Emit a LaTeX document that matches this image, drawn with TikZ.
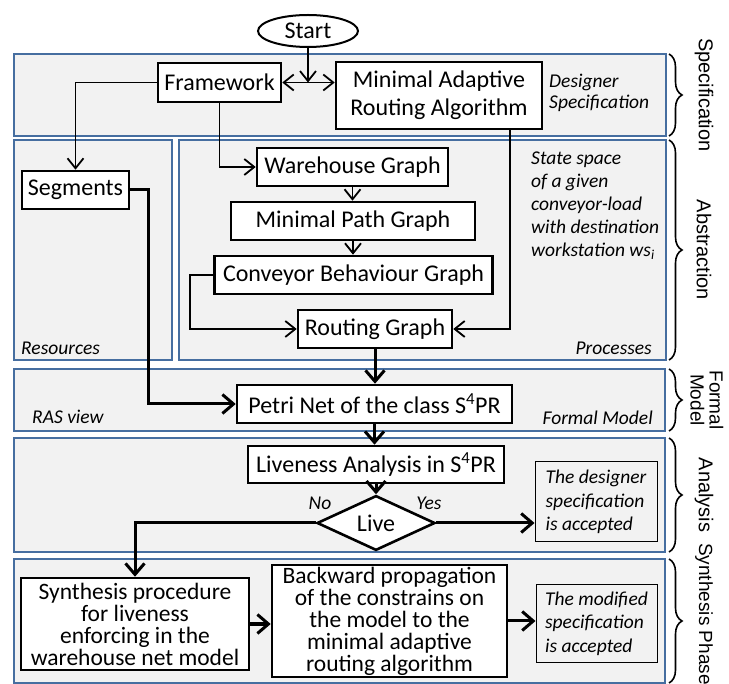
\documentclass[tikz,border=0pt]{standalone}
\usepackage{fontspec}
\setmainfont{Carlito}
\newfontfamily\sidefont{Liberation Sans}
\usepackage{tikz}
\usetikzlibrary{shapes.geometric, arrows.meta, decorations.pathreplacing, calc}
\definecolor{bandblue}{RGB}{70,110,160}
\definecolor{bandgray}{RGB}{242,242,242}
\tikzset{band/.style={draw=bandblue, fill=bandgray, line width=2pt},
    blk/.style={draw, fill=white, line width=2.6pt, inner sep=0pt, align=center, font=\fontsize{24}{28}\selectfont},
    note/.style={inner sep=0pt, font=\fontsize{19.5}{23}\selectfont\itshape},
    notebox/.style={draw, fill=bandgray, line width=1pt, inner sep=0pt, align=left, font=\fontsize{19.5}{23.5}\selectfont\itshape},
    decide/.style={diamond, draw, fill=white, line width=2.6pt, inner sep=0pt, minimum width=118pt, minimum height=47pt, font=\fontsize{24}{26}\selectfont},
    thinarr/.style={line width=1.8pt, -{Straight Barb[length=10pt, width=16pt]}},
    thickarr/.style={line width=3pt, -{Straight Barb[length=11pt, width=19pt]}},
    phase/.style={decorate, decoration={brace, amplitude=13pt}, line width=1.6pt},
    phaselabel/.style={rotate=-90, inner sep=0pt, align=center, font=\sidefont\fontsize{20}{22}\selectfont}}

\begin{document}
\begin{tikzpicture}[x=1pt, y=-1pt]
                 \useasboundingbox (0,0) rectangle (729,684);

                 \draw[band] (14,54) rectangle (666,136);
                 \draw[band] (14,140) rectangle (172,360);
                 \draw[band] (179,140) rectangle (666,360);
                 \draw[band] (14,369) rectangle (665,431);
                 \draw[band] (14,438) rectangle (665,552);
                 \draw[band] (14,559) rectangle (665,683);

                 \node[draw, ellipse, fill=white, line width=2pt, inner sep=0pt, minimum width=100pt, minimum height=32pt, font=\fontsize{24}{26}\selectfont] (start) at (308,31) {Start};
                 \node[blk, minimum width=123pt, minimum height=39pt] (framework) at (219.5,82.5) {Framework};
                 \node[blk, minimum width=206pt, minimum height=67pt] (mara) at (439,95.5) {Minimal Adaptive\\Routing Algorithm};

                 \node[blk, minimum width=107pt, minimum height=38pt] (segments) at (75.5,190) {Segments};
                 \node[blk, minimum width=191pt, minimum height=38pt] (warehouse) at (352.5,167) {Warehouse Graph};
                 \node[blk, minimum width=244pt, minimum height=38pt] (minpath) at (353,221) {Minimal Path Graph};
                 \node[blk, minimum width=278pt, minimum height=38pt] (conveyor) at (353.5,275) {Conveyor Behaviour Graph};
                 \node[blk, minimum width=154pt, minimum height=38pt] (routing) at (375,329) {Routing Graph};

                 \node[blk, minimum width=275pt, minimum height=38pt] (petri) at (374.5,404) {Petri Net of the class S\textsuperscript{4}PR};
                 \node[blk, minimum width=256pt, minimum height=37pt] (liveness) at (376,464.5) {Liveness Analysis in S\textsuperscript{4}PR};
                 \node[decide] (live) at (376,523) {Live};
                 \node[notebox, minimum width=122pt, minimum height=80pt] (designer) at (596,502) {The designer\\specification\\is accepted};

                 \node[blk, minimum width=228pt, minimum height=92pt, font=\fontsize{23.5}{22}\selectfont] (synthesis) at (135,624) {Synthesis procedure\\for liveness\\enforcing in the\\warehouse net model};
                 \node[blk, minimum width=235pt, minimum height=112pt, font=\fontsize{23.5}{22}\selectfont] (backward) at (389.5,621) {Backward propagation\\of the constrains on\\the model to the\\minimal adaptive\\routing algorithm};
                 \node[notebox, minimum width=121pt, minimum height=77pt] (modified) at (596.5,623.5) {The modified\\specification\\is accepted};

                 \node[note, align=left, anchor=west, font=\fontsize{19.5}{21}\selectfont\itshape] (designspec) at (549,92.5) {Designer\\Specification};
                 \node[note, align=left, anchor=west] (statespace) at (531,206) {State space\\of a given\\conveyor-load\\with destination\\workstation ws\textsubscript{i}};
                 \node[note, anchor=west] (resources) at (21,348) {Resources};
                 \node[note, anchor=east] (processes) at (652,348) {Processes};
                 \node[note, anchor=west] (rasview) at (32,417) {RAS view};
                 \node[note, anchor=east] (formalmodel) at (653,418) {Formal Model};
                 \node[note] (nolabel) at (320,503) {No};
                 \node[note] (yeslabel) at (429,503) {Yes};

                 \coordinate (maraout) at ($(mara.south east)+(-33,0)$);

                 \draw[thinarr] (start.south) -- (start.south |- framework.east);
                 \draw[thinarr, {Straight Barb[length=10pt, width=16pt]}-{Straight Barb[length=10pt, width=16pt]}] (framework.east) -- (framework.east -| mara.west);
                 \draw[thinarr] (framework.west) -| (segments.north);
                 \draw[thinarr] (framework.south) |- (warehouse.west);
                 \draw[thinarr] (maraout) |- (routing.east);
                 \draw[thinarr] (warehouse.south) -- (warehouse.south |- minpath.north);
                 \draw[thinarr] (minpath.south) -- (minpath.south |- conveyor.north);
                 \draw[thinarr] (conveyor.west) -- ++(-23,0) |- (routing.west);

                 \draw[thickarr] (segments.east) -- ++(18,0) |- (petri.west);
                 \draw[thickarr] (routing.south) -- (routing.south |- petri.north);
                 \draw[thickarr] (petri.south) -- (petri.south |- liveness.north);
                 \draw[thickarr] (liveness.south) -- (live.north);
                 \draw[thickarr] (live.west) -| (synthesis.north);
                 \draw[thickarr] (live.east) -- (live.east -| designer.west);
                 \draw[thickarr] (synthesis.east) -- (synthesis.east -| backward.west);
                 \draw[thickarr] (backward.east) -- (backward.east -| modified.west);

                 \draw[phase] (669,54) -- (669,136);
                 \draw[phase] (669,140) -- (669,360);
                 \draw[phase] (669,369) -- (669,431);
                 \draw[phase] (669,438) -- (669,552);
                 \draw[phase] (669,559) -- (669,683);
                 \node[phaselabel] (speclabel) at (704,95) {Specification};
                 \node[phaselabel] (abstlabel) at (704,250) {Abstraction};
                 \node[phaselabel, font=\sidefont\fontsize{19}{19}\selectfont] (formlabel) at (707,400) {Formal\\Model};
                 \node[phaselabel] (analabel) at (704,495) {Analysis};
                 \node[phaselabel, font=\sidefont\fontsize{19}{22}\selectfont] (synlabel) at (704,614) {Synthesis Phase};
\end{tikzpicture}
\end{document}
